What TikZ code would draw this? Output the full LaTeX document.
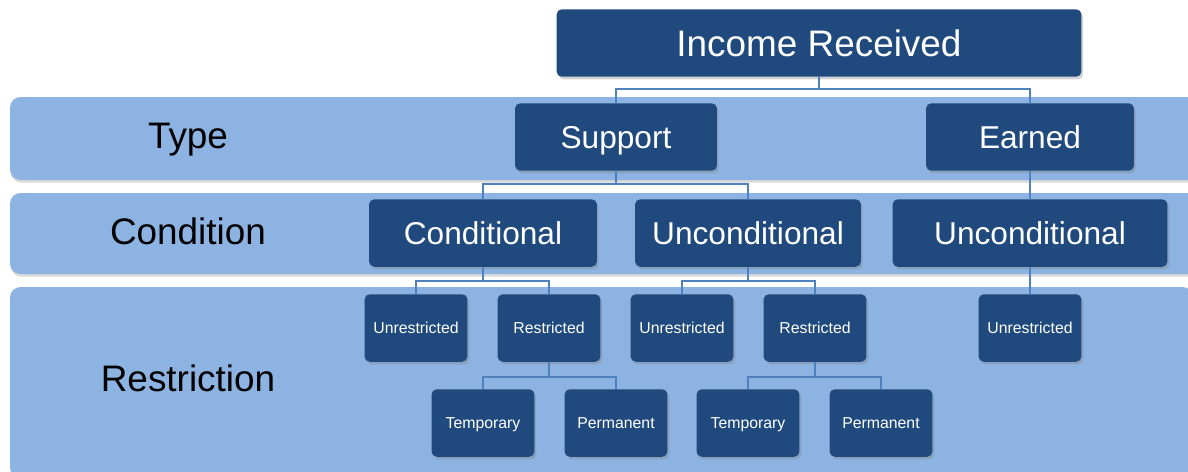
\documentclass[tikz,border=0pt]{standalone}
\usepackage{fontspec}
\setmainfont{Liberation Sans}
\usetikzlibrary{shadows}
\definecolor{boxblue}{RGB}{32,74,126}
\definecolor{bandblue}{RGB}{141,179,226}
\definecolor{linkblue}{RGB}{79,129,189}
\begin{document}
\begin{tikzpicture}[x=0.02cm, y=-0.02cm,
    band/.style={fill=bandblue, rounded corners=6pt,
        drop shadow={shadow xshift=0.5pt, shadow yshift=-1.5pt, opacity=0.3}},
    box/.style={fill=boxblue, text=white, rounded corners=3pt, inner sep=0pt,
        minimum height=1.35cm, text depth=0pt,
        drop shadow={shadow xshift=1pt, shadow yshift=-1.5pt, opacity=0.35}},
    bigbox/.style={box, font=\fontsize{18}{21}\selectfont, text height=12.9pt},
    smallbox/.style={box, minimum width=2.06cm, font=\fontsize{9}{11}\selectfont, text height=6.45pt},
    rowlabel/.style={font=\fontsize{21}{25}\selectfont, text height=15pt, text depth=0pt}]
    \tikzset{link/.style={draw=linkblue, line width=1pt}}
    \useasboundingbox (0,0) rectangle (1188,471);
    % bands
    \fill[band] (10,97) rectangle (1200,180);
    \fill[band] (10,193) rectangle (1200,274);
    \fill[band] (10,287) rectangle (1193,478);
    \node[rowlabel] (ltype) at (188,135) {Type};
    \node[rowlabel] (lcond) at (188,231) {Condition};
    \node[rowlabel] (lrestr) at (188,378) {Restriction};
    % top levels
    \node[bigbox, minimum width=10.5cm, font=\fontsize{21}{25}\selectfont, text height=15pt] (income) at (819,43) {Income Received};
    \node[bigbox, minimum width=4.04cm] (support) at (616,137) {Support};
    \node[bigbox, minimum width=4.16cm] (earned) at (1030,137) {Earned};
    \node[bigbox, minimum width=4.56cm] (cond) at (483,233) {Conditional};
    \node[bigbox, minimum width=4.52cm] (uncond) at (748,233) {Unconditional};
    \node[bigbox, minimum width=5.5cm] (euncond) at (1030,233) {Unconditional};
    % restriction level
    \node[smallbox] (cunr) at (416,328) {Unrestricted};
    \node[smallbox] (cres) at (549,328) {Restricted};
    \node[smallbox] (uunr) at (682,328) {Unrestricted};
    \node[smallbox] (ures) at (815,328) {Restricted};
    \node[smallbox] (eunr) at (1030,328) {Unrestricted};
    \node[smallbox] (ctemp) at (483,423) {Temporary};
    \node[smallbox] (cperm) at (616,423) {Permanent};
    \node[smallbox] (utemp) at (748,423) {Temporary};
    \node[smallbox] (uperm) at (881,423) {Permanent};
    % connectors
    \draw[link] (income.south) -- ++(0,12) -| (support.north);
    \draw[link] (income.south) -- ++(0,12) -| (earned.north);
    \draw[link] (support.south) -- ++(0,13) -| (cond.north);
    \draw[link] (support.south) -- ++(0,13) -| (uncond.north);
    \draw[link] (earned.south) -- (euncond.north);
    \draw[link] (cond.south) -- ++(0,14) -| (cunr.north);
    \draw[link] (cond.south) -- ++(0,14) -| (cres.north);
    \draw[link] (uncond.south) -- ++(0,14) -| (uunr.north);
    \draw[link] (uncond.south) -- ++(0,14) -| (ures.north);
    \draw[link] (euncond.south) -- (eunr.north);
    \draw[link] (cres.south) -- ++(0,15) -| (ctemp.north);
    \draw[link] (cres.south) -- ++(0,15) -| (cperm.north);
    \draw[link] (ures.south) -- ++(0,15) -| (utemp.north);
    \draw[link] (ures.south) -- ++(0,15) -| (uperm.north);
\end{tikzpicture}
\end{document}
